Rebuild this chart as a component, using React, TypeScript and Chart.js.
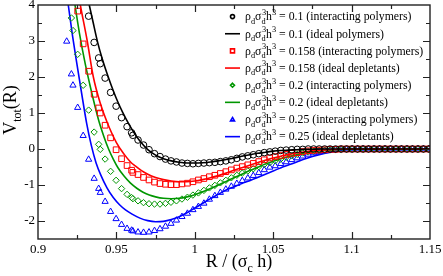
import { useEffect, useRef } from "react";
import { Chart, registerables } from "chart.js";

Chart.register(...registerables);

const FONT = '"Liberation Serif", "Times New Roman", serif';

// ---- axis tick labels ----
const xTickLabels = ["0.9", "0.95", "1", "1.05", "1.1", "1.15"];
const yTickLabels = ["-2", "-1", "0", "1", "2", "3", "4"];

// ---- legend labels ----
const legendValues = ["0.1", "0.1", "0.158", "0.158", "0.2", "0.2", "0.25", "0.25"];
const legendKinds = [
  "(interacting polymers)",
  "(ideal polymers)",
  "(interacting polymers)",
  "(ideal depletants)",
  "(interacting polymers)",
  "(ideal depletants)",
  "(interacting polymers)",
  "(ideal depletants)",
];

// ---- simulation points (interacting polymers), shared R grid ----
const markerR = [
  0.9183, 0.9213, 0.9223, 0.9253, 0.9288, 0.9323, 0.9358, 0.9387, 0.9397, 0.9428,
  0.9463, 0.9498, 0.9533, 0.9568, 0.9597, 0.9605, 0.9638, 0.9673, 0.9708, 0.9743,
  0.9778, 0.9813, 0.9848, 0.9883, 0.9918, 0.9953, 0.9988, 1.0023, 1.0058, 1.0093,
  1.0128, 1.0163, 1.0198, 1.0233, 1.0268, 1.0303, 1.0338, 1.0373, 1.0408, 1.0443,
  1.0478, 1.0513, 1.0548, 1.0583, 1.0618, 1.0653, 1.0688, 1.0723, 1.0758, 1.0793,
  1.0828, 1.0863, 1.0898, 1.0933, 1.0968, 1.1003, 1.1038, 1.1073, 1.1108, 1.1143,
  1.1178, 1.1213, 1.1248, 1.1283, 1.1318, 1.1353, 1.1388, 1.1423, 1.1458, 1.1493,
];

const interacting010 = [
  null, null, null, null, null, 3.69, 2.96, 2.53, 2.37, 1.97,
  1.57, 1.19, 0.87, 0.62, 0.45, 0.38, 0.25, 0.11, -0.02, -0.13,
  -0.21, -0.28, -0.33, -0.36, -0.39, -0.4, -0.41, -0.4, -0.39, -0.38,
  -0.37, -0.35, -0.33, -0.3, -0.26, -0.22, -0.19, -0.16, -0.13, -0.1,
  -0.08, -0.06, -0.04, -0.03, -0.02, -0.01, -0.01, 0, 0, 0,
  0, 0, 0, 0, 0, 0, 0, 0, 0, 0,
  0, 0, 0, 0, 0, 0, 0, 0, 0, 0,
];

const interacting0158 = [
  null, null, null, 3.83, 2.92, 2.16, 1.52, 1.14, 1.0, 0.66,
  0.31, -0.02, -0.27, -0.46, -0.59, -0.65, -0.71, -0.79, -0.86, -0.92,
  -0.96, -0.98, -0.99, -0.99, -0.97, -0.95, -0.91, -0.86, -0.82, -0.77,
  -0.73, -0.68, -0.63, -0.58, -0.53, -0.49, -0.44, -0.4, -0.35, -0.3,
  -0.25, -0.21, -0.18, -0.15, -0.12, -0.1, -0.07, -0.05, -0.04, -0.03,
  -0.02, -0.01, -0.01, 0, 0, 0, 0, 0, 0, 0,
  0, 0, 0, 0, 0, 0, 0, 0, 0, 0,
];

const interacting020 = [
  null, 3.64, 3.29, 2.63, 1.77, 1.08, 0.47, 0.13, -0.01, -0.28,
  -0.62, -0.87, -1.1, -1.26, -1.35, -1.38, -1.44, -1.49, -1.52, -1.53,
  -1.53, -1.51, -1.48, -1.44, -1.39, -1.34, -1.28, -1.22, -1.15, -1.08,
  -1.01, -0.94, -0.87, -0.8, -0.73, -0.67, -0.61, -0.55, -0.49, -0.43,
  -0.38, -0.33, -0.28, -0.23, -0.19, -0.15, -0.11, -0.08, -0.06, -0.04,
  -0.03, -0.02, -0.01, -0.01, 0, 0, 0, 0, 0, 0,
  0, 0, 0, 0, 0, 0, 0, 0, 0, 0,
];

const interacting025 = [
  2.99, 2.08, 1.77, 1.15, 0.37, -0.29, -0.82, -1.1, -1.21, -1.46,
  -1.74, -1.94, -2.1, -2.21, -2.26, -2.28, -2.31, -2.32, -2.31, -2.27,
  -2.22, -2.15, -2.07, -1.98, -1.88, -1.79, -1.69, -1.6, -1.51, -1.4,
  -1.3, -1.21, -1.12, -1.04, -0.96, -0.88, -0.81, -0.74, -0.66, -0.58,
  -0.51, -0.47, -0.41, -0.36, -0.3, -0.25, -0.2, -0.15, -0.11, -0.08,
  -0.05, -0.03, -0.02, -0.01, -0.01, 0, 0, 0, 0, 0,
  0, 0, 0, 0, 0, 0, 0, 0, 0, 0,
];

// ---- theory curves (ideal) ----
const idealR010 = [
  0.93, 0.9327, 0.935, 0.938, 0.941, 0.9448, 0.948, 0.951, 0.954, 0.9576,
  0.961, 0.965, 0.97, 0.975, 0.98, 0.985, 0.99, 0.995, 1.0, 1.005,
  1.01, 1.015, 1.02, 1.025, 1.03, 1.035, 1.04, 1.045, 1.05, 1.055,
  1.06, 1.065, 1.07, 1.075, 1.08, 1.1, 1.15,
];
const ideal010 = [
  4.55, 4.0, 3.55, 2.97, 2.5, 2.0, 1.62, 1.3, 1.02, 0.72,
  0.47, 0.22, -0.02, -0.17, -0.27, -0.33, -0.37, -0.39, -0.39, -0.38,
  -0.36, -0.33, -0.29, -0.25, -0.2, -0.16, -0.12, -0.09, -0.06, -0.04,
  -0.03, -0.02, -0.01, -0.005, 0, 0, 0,
];

const idealR0158 = [
  0.925, 0.927, 0.9314, 0.9353, 0.9395, 0.944, 0.95, 0.955, 0.959, 0.962,
  0.966, 0.97, 0.975, 0.98, 0.985, 0.99, 0.995, 1.0, 1.005, 1.01,
  1.015, 1.02, 1.025, 1.03, 1.035, 1.04, 1.045, 1.05, 1.055, 1.06,
  1.065, 1.07, 1.075, 1.08, 1.085, 1.09, 1.095, 1.15,
];
const ideal0158 = [
  4.5, 4.0, 3.0, 2.0, 1.3, 0.75, 0.18, -0.15, -0.36, -0.47,
  -0.6, -0.7, -0.79, -0.85, -0.89, -0.91, -0.91, -0.89, -0.85, -0.8,
  -0.74, -0.67, -0.59, -0.52, -0.45, -0.38, -0.31, -0.25, -0.2, -0.15,
  -0.11, -0.08, -0.05, -0.03, -0.02, -0.01, 0, 0,
];

const idealR020 = [
  0.922, 0.9236, 0.9265, 0.93, 0.933, 0.936, 0.939, 0.942, 0.945, 0.948,
  0.951, 0.955, 0.959, 0.963, 0.967, 0.971, 0.975, 0.98, 0.985, 0.99,
  0.995, 1.0, 1.005, 1.01, 1.015, 1.02, 1.025, 1.03, 1.035, 1.04,
  1.045, 1.05, 1.055, 1.06, 1.065, 1.07, 1.075, 1.08, 1.085, 1.09,
  1.095, 1.1, 1.15,
];
const ideal020 = [
  4.5, 4.0, 3.2, 2.39, 1.8, 1.25, 0.75, 0.35, 0.0, -0.28,
  -0.52, -0.76, -0.95, -1.09, -1.2, -1.28, -1.33, -1.37, -1.38, -1.37,
  -1.33, -1.27, -1.19, -1.1, -1.0, -0.9, -0.8, -0.7, -0.6, -0.51,
  -0.42, -0.34, -0.27, -0.21, -0.16, -0.11, -0.08, -0.05, -0.03, -0.02,
  -0.01, 0, 0,
];

const idealR025 = [
  0.9175, 0.9193, 0.922, 0.9247, 0.928, 0.931, 0.934, 0.937, 0.94, 0.944,
  0.948, 0.952, 0.956, 0.96, 0.965, 0.97, 0.975, 0.98, 0.985, 0.99,
  0.995, 1.0, 1.005, 1.01, 1.015, 1.02, 1.025, 1.03, 1.035, 1.04,
  1.045, 1.05, 1.055, 1.06, 1.065, 1.07, 1.075, 1.08, 1.085, 1.09,
  1.095, 1.1, 1.105, 1.15,
];
const ideal025 = [
  4.6, 4.0, 3.15, 2.39, 1.5, 0.72, 0.1, -0.38, -0.72, -1.08,
  -1.35, -1.55, -1.7, -1.81, -1.92, -1.99, -2.02, -2.01, -1.96, -1.88,
  -1.77, -1.64, -1.51, -1.38, -1.26, -1.14, -1.05, -0.96, -0.88, -0.79,
  -0.7, -0.61, -0.52, -0.44, -0.36, -0.28, -0.21, -0.15, -0.1, -0.06,
  -0.03, -0.01, 0, 0,
];

const BLACK = "#000000";
const RED = "#ff0000";
const GREEN = "#009600";
const BLUE = "#0000ff";

type Part = { t: string; m?: "sub" | "sup"; sup?: string };

function drawRich(ctx: CanvasRenderingContext2D, x: number, baseline: number, parts: Part[], size: number, small: number, subOff: number, supOff: number) {
  let cx = x;
  for (const p of parts) {
    if (p.m === "sub") {
      ctx.font = `${small}px ${FONT}`;
      ctx.fillText(p.t, cx, baseline + subOff);
      let w = ctx.measureText(p.t).width;
      if (p.sup) {
        ctx.fillText(p.sup, cx + 0.5, baseline + supOff);
        w = Math.max(w, ctx.measureText(p.sup).width + 0.5);
      }
      cx += w;
    } else if (p.m === "sup") {
      ctx.font = `${small}px ${FONT}`;
      ctx.fillText(p.t, cx, baseline + supOff);
      cx += ctx.measureText(p.t).width;
    } else {
      ctx.font = `${size}px ${FONT}`;
      ctx.fillText(p.t, cx, baseline);
      cx += ctx.measureText(p.t).width;
    }
  }
  return cx - x;
}

function measureRich(ctx: CanvasRenderingContext2D, parts: Part[], size: number, small: number) {
  let w = 0;
  for (const p of parts) {
    ctx.font = `${p.m ? small : size}px ${FONT}`;
    let pw = ctx.measureText(p.t).width;
    if (p.sup) pw = Math.max(pw, ctx.measureText(p.sup).width + 0.5);
    w += pw;
  }
  return w;
}

function drawMarker(ctx: CanvasRenderingContext2D, style: string, x: number, y: number, r: number) {
  ctx.beginPath();
  if (style === "circle") {
    ctx.arc(x, y, r, 0, Math.PI * 2);
  } else if (style === "rect") {
    ctx.rect(x - r, y - r, 2 * r, 2 * r);
  } else if (style === "rectRot") {
    ctx.moveTo(x, y - r);
    ctx.lineTo(x + r, y);
    ctx.lineTo(x, y + r);
    ctx.lineTo(x - r, y);
    ctx.closePath();
  } else if (style === "triangle") {
    ctx.moveTo(x, y - r);
    ctx.lineTo(x + r, y + r * 0.7);
    ctx.lineTo(x - r, y + r * 0.7);
    ctx.closePath();
  }
  ctx.stroke();
}

export default function App() {
  const ref = useRef<HTMLCanvasElement>(null);

  useEffect(() => {
    document.body.style.margin = "0";
    const canvas = ref.current;
    if (!canvas) return;

    const pts = (xs: number[], ys: (number | null)[]) =>
      xs.map((x, i) => ({ x, y: ys[i] })).filter((p) => p.y !== null) as { x: number; y: number }[];

    const markerSet = (label: string, ys: (number | null)[], color: string, style: string, radius: number) => ({
      label,
      data: pts(markerR, ys),
      showLine: false,
      pointStyle: style,
      pointRadius: radius,
      pointBorderWidth: 1,
      pointBorderColor: color,
      pointBackgroundColor: "rgba(0,0,0,0)",
      borderColor: color,
      backgroundColor: "rgba(0,0,0,0)",
    });
    const lineSet = (label: string, xs: number[], ys: number[], color: string) => ({
      label,
      data: pts(xs, ys),
      showLine: true,
      pointRadius: 0,
      borderWidth: 1.6,
      borderColor: color,
      backgroundColor: color,
      cubicInterpolationMode: "monotone" as const,
    });

    const datasets: any[] = [
      markerSet("0.1 int", interacting010, BLACK, "circle", 3.3),
      lineSet("0.1 ideal", idealR010, ideal010, BLACK),
      markerSet("0.158 int", interacting0158, RED, "rect", 4.0),
      lineSet("0.158 ideal", idealR0158, ideal0158, RED),
      markerSet("0.2 int", interacting020, GREEN, "rectRot", 3.2),
      lineSet("0.2 ideal", idealR020, ideal020, GREEN),
      markerSet("0.25 int", interacting025, BLUE, "triangle", 3.6),
      lineSet("0.25 ideal", idealR025, ideal025, BLUE),
    ];

    const framePlugin = {
      id: "frameTicks",
      afterDatasetsDraw(chart: any) {
        const { ctx, chartArea } = chart;
        const { left, right, top, bottom } = chartArea;
        const xs = chart.scales.x;
        const ys = chart.scales.y;
        ctx.save();
        ctx.strokeStyle = "#222";
        ctx.lineWidth = 1.4;
        ctx.strokeRect(left, top, right - left, bottom - top);
        ctx.lineWidth = 1.2;
        const major = 7;
        const minor = 4;
        const xMajors = xs.ticks.map((t: any) => t.value);
        const yMajors = ys.ticks.map((t: any) => t.value).filter((v: number) => Math.abs(v - Math.round(v)) < 1e-6);
        ctx.beginPath();
        for (let v = xs.min; v <= xs.max + 1e-9; v += 0.025) {
          const isMaj = xMajors.some((m: number) => Math.abs(m - v) < 1e-6);
          const px = Math.round(xs.getPixelForValue(v)) + 0.5;
          const l = isMaj ? major : minor;
          if (px <= left + 1 || px >= right - 1) continue;
          ctx.moveTo(px, bottom);
          ctx.lineTo(px, bottom - l);
          ctx.moveTo(px, top);
          ctx.lineTo(px, top + l);
        }
        for (let v = ys.min; v <= ys.max + 1e-9; v += 0.5) {
          const isMaj = yMajors.some((m: number) => Math.abs(m - v) < 1e-6);
          const py = Math.round(ys.getPixelForValue(v)) + 0.5;
          const l = isMaj ? major : minor;
          if (py <= top + 1 || py >= bottom - 1) continue;
          ctx.moveTo(left, py);
          ctx.lineTo(left + l, py);
          ctx.moveTo(right, py);
          ctx.lineTo(right - l, py);
        }
        ctx.stroke();
        ctx.restore();
      },
      afterDraw(chart: any) {
        const { ctx, chartArea } = chart;
        ctx.save();
        ctx.fillStyle = "#000";
        ctx.textBaseline = "alphabetic";
        ctx.textAlign = "left";

        // x-axis title
        const xParts: Part[] = [{ t: "R / (σ" }, { t: "c", m: "sub" }, { t: " h)" }];
        const xw = measureRich(ctx, xParts, 18, 12);
        const xc = (chartArea.left + chartArea.right) / 2 + 5;
        drawRich(ctx, xc - xw / 2, 267, xParts, 18, 12, 5, -7);

        // y-axis title (rotated)
        const yParts: Part[] = [{ t: "V" }, { t: "tot", m: "sub" }, { t: "(R)" }];
        const yw = measureRich(ctx, yParts, 18, 12);
        ctx.save();
        ctx.translate(16, 110);
        ctx.rotate(-Math.PI / 2);
        drawRich(ctx, -yw / 2, 0, yParts, 18, 12, 5, -7);
        ctx.restore();

        // legend
        const rowTop = 16.6;
        const rowStep = 17.15;
        const symX = 232.5;
        const textX = 245;
        chart.data.datasets.forEach((ds: any, i: number) => {
          const cy = rowTop + i * rowStep;
          ctx.strokeStyle = ds.borderColor;
          if (ds.showLine) {
            ctx.lineWidth = 1.6;
            ctx.beginPath();
            ctx.moveTo(225, cy);
            ctx.lineTo(240, cy);
            ctx.stroke();
          } else {
            ctx.lineWidth = 1.6;
            drawMarker(ctx, ds.pointStyle, symX, cy, 2.0);
          }
          ctx.fillStyle = "#000";
          const parts: Part[] = [
            { t: "ρ" },
            { t: "d", m: "sub" },
            { t: "σ" },
            { t: "d", m: "sub", sup: "3" },
            { t: "h" },
            { t: "3", m: "sup" },
            { t: ` = ${legendValues[i]} ${legendKinds[i]}` },
          ];
          drawRich(ctx, textX, cy + 3.8, parts, 11.8, 8.3, 3.6, -5.4);
        });
        ctx.restore();
      },
    };

    const chart = new Chart(canvas, {
      type: "scatter",
      data: { datasets },
      options: {
        animation: false,
        responsive: false,
        maintainAspectRatio: false,
        layout: { padding: { top: 5, right: 13, left: 0, bottom: 0 } },
        plugins: { legend: { display: false }, tooltip: { enabled: false }, title: { display: false } },
        elements: { line: { tension: 0 } },
        scales: {
          x: {
            type: "linear",
            min: 0.9,
            max: 1.15,
            grid: { display: false, drawTicks: false },
            border: { display: false },
            ticks: {
              stepSize: 0.05,
              autoSkip: false,
              maxRotation: 0,
              padding: 3,
              color: "#000",
              font: { family: FONT, size: 13 },
              callback: (v: any) => xTickLabels.find((l) => Math.abs(Number(l) - Number(v)) < 1e-6) ?? "",
            },
            afterFit: (s: any) => {
              s.height = 37;
              s.paddingLeft = 0;
              s.paddingRight = 0;
            },
          },
          y: {
            type: "linear",
            min: -2.5,
            max: 4,
            grid: { display: false, drawTicks: false },
            border: { display: false },
            ticks: {
              stepSize: 1,
              autoSkip: false,
              padding: 3,
              color: "#000",
              font: { family: FONT, size: 13 },
              callback: (v: any) => yTickLabels.find((l) => Math.abs(Number(l) - Number(v)) < 1e-6) ?? "",
            },
            afterFit: (s: any) => {
              s.width = 38;
              s.paddingTop = 0;
              s.paddingBottom = 0;
            },
          },
        },
      } as any,
      plugins: [framePlugin],
    });

    return () => chart.destroy();
  }, []);

  return (
    <div style={{ width: 443, height: 276 }}>
      <canvas ref={ref} width={443} height={276} style={{ display: "block" }} />
    </div>
  );
}
